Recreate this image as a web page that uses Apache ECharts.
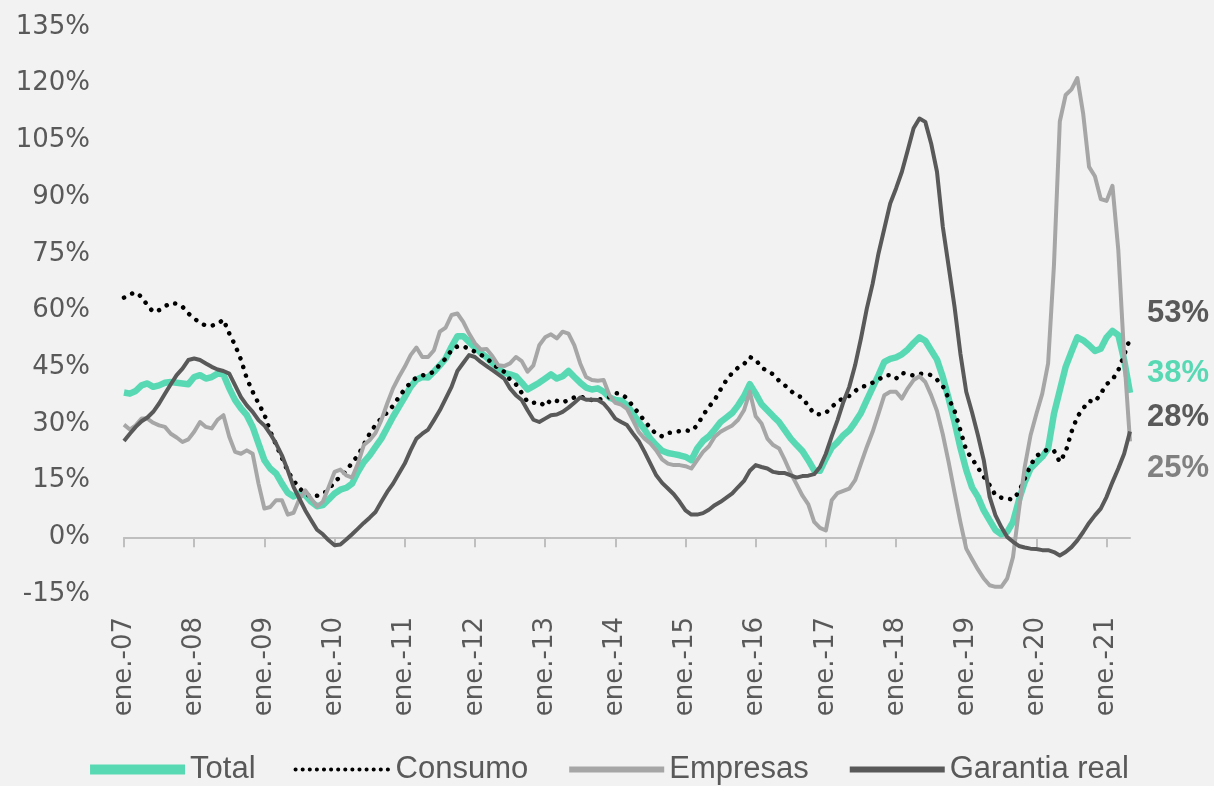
<!DOCTYPE html>
<html>
<head>
<meta charset="utf-8">
<script src="https://cdn.jsdelivr.net/npm/echarts@6/dist/echarts.min.js"></script>
<style>
  html, body { margin: 0; padding: 0; background: #f2f2f2; }
  #chart { width: 1214px; height: 786px; }
</style>
</head>
<body>
<div id="chart"></div>
<script>
// meses y años del eje (ene.-07 ... may.-21)
const meses = ['ene.', 'feb.', 'mar.', 'abr.', 'may.', 'jun.', 'jul.', 'ago.', 'sept.', 'oct.', 'nov.', 'dic.'];
const anios = ['07', '08', '09', '10', '11', '12', '13', '14', '15', '16', '17', '18', '19', '20', '21'];
const nMeses = 173;

// series (% variación)
const total = [
  38.3, 38.0, 38.7, 40.2, 40.7, 39.8, 40.2, 40.9, 41.1, 40.9, 40.7, 40.5,
  42.4, 42.9, 42.0, 42.4, 43.3, 43.1, 39.4, 36.3, 34.1, 32.3, 29.2, 24.8,
  20.4, 18.2, 16.9, 14.2, 11.8, 10.8, 11.6, 11.1, 9.4, 8.2, 8.5, 10.0,
  11.6, 12.6, 13.1, 14.2, 17.3, 19.9, 21.7, 23.9, 26.1, 29.0, 31.9, 34.5,
  37.1, 39.8, 41.7, 42.4, 42.3, 43.8, 45.5, 47.3, 50.4, 53.2, 53.2, 51.7,
  50.2, 48.8, 47.6, 46.1, 44.6, 43.5, 43.1, 42.6, 40.9, 39.1, 40.0, 40.9,
  42.0, 43.1, 42.0, 42.6, 44.0, 42.4, 40.9, 39.6, 39.1, 39.4, 38.5, 37.0,
  36.3, 36.1, 35.0, 32.8, 30.5, 28.5, 26.1, 24.4, 22.9, 22.3, 22.0, 21.7,
  21.3, 20.4, 23.5, 25.5, 26.7, 28.5, 30.5, 31.7, 32.9, 34.9, 37.3, 40.5,
  38.0, 35.2, 33.6, 32.0, 30.5, 28.3, 26.1, 24.4, 22.8, 20.4, 17.7, 17.6,
  20.8, 23.7, 25.2, 27.0, 28.3, 30.5, 32.9, 36.3, 39.6, 42.9, 46.4, 47.2,
  47.6, 48.4, 49.7, 51.4, 52.9, 52.0, 49.5, 47.0, 42.4, 36.7, 30.5, 23.7,
  17.8, 13.2, 10.7, 7.1, 4.5, 1.9, 0.8, 1.4, 4.1, 9.8, 14.6, 18.2,
  19.8, 21.3, 23.5, 32.7, 38.9, 45.1, 49.1, 52.9, 52.1, 50.8, 49.3, 49.9,
  52.9, 54.6, 53.5, 46.9, 38.2
];
const consumo = [
  63.4, 64.3, 64.8, 63.6, 61.4, 59.6, 60.1, 61.1, 62.0, 61.8, 61.0, 59.2,
  57.9, 56.7, 56.0, 56.0, 56.4, 57.6, 53.9, 50.8, 47.0, 42.0, 38.5, 35.4,
  32.5, 28.0, 24.5, 21.0, 17.5, 15.0, 13.0, 11.5, 10.8, 11.0, 11.5, 12.6,
  14.7, 16.0, 17.5, 19.8, 21.6, 24.5, 27.4, 29.7, 31.5, 33.0, 34.8, 37.1,
  39.2, 40.9, 42.3, 42.8, 43.2, 43.8, 45.7, 47.3, 49.5, 50.5, 50.5, 49.9,
  49.1, 48.3, 47.3, 46.1, 44.6, 43.8, 41.7, 40.5, 38.2, 35.8, 35.6, 35.8,
  34.7, 36.4, 36.1, 35.6, 36.4, 37.0, 37.3, 36.7, 36.3, 36.4, 36.7, 37.1,
  38.2, 37.9, 36.8, 34.7, 32.8, 30.8, 28.9, 27.3, 26.7, 27.6, 27.8, 28.1,
  28.3, 28.1, 29.6, 32.3, 34.5, 36.4, 39.1, 41.6, 43.5, 44.9, 45.8, 47.7,
  47.0, 44.9, 44.0, 43.1, 41.4, 40.2, 38.7, 37.6, 36.9, 34.7, 32.7, 32.5,
  32.9, 34.5, 35.8, 36.9, 37.4, 38.7, 39.8, 40.1, 40.9, 41.7, 42.8, 42.9,
  42.0, 43.5, 43.1, 42.8, 43.3, 43.3, 42.9, 41.7, 40.0, 36.7, 33.5, 28.3,
  23.0, 20.8, 18.4, 16.0, 13.8, 11.1, 10.5, 10.2, 10.0, 12.0, 15.5, 19.1,
  21.5, 22.6, 23.2, 22.9, 19.9, 22.6, 27.9, 31.9, 34.1, 36.1, 35.8, 38.0,
  40.5, 41.7, 44.2, 48.2, 52.6
];
const empresas = [
  29.8, 28.5, 29.6, 31.4, 31.4, 30.3, 29.6, 29.2, 27.4, 26.4, 25.2, 25.9,
  27.9, 30.5, 29.2, 28.8, 31.1, 32.3, 26.6, 22.6, 22.1, 23.0, 22.1, 14.2,
  7.6, 8.0, 9.8, 9.8, 6.0, 6.5, 10.2, 12.4, 10.2, 8.2, 9.4, 13.3,
  17.3, 17.9, 16.4, 15.8, 19.5, 24.4, 25.7, 27.6, 31.0, 35.4, 39.4, 42.4,
  45.1, 48.2, 50.2, 47.7, 47.7, 49.5, 54.4, 55.5, 58.8, 59.2, 57.0, 53.9,
  51.3, 49.7, 49.8, 47.9, 45.5, 45.3, 46.0, 47.7, 46.6, 43.8, 45.5, 50.8,
  52.9, 53.7, 52.6, 54.4, 53.9, 50.8, 46.0, 42.4, 41.6, 41.4, 41.6, 37.6,
  35.6, 35.1, 34.0, 31.0, 27.9, 26.1, 24.8, 23.0, 20.6, 19.5, 19.1, 19.1,
  18.8, 18.2, 20.4, 22.6, 24.1, 26.6, 27.9, 28.8, 29.6, 31.1, 33.6, 38.5,
  32.0, 30.1, 26.1, 24.4, 23.5, 20.4, 16.9, 14.0, 11.0, 8.7, 4.1, 2.5,
  1.8, 9.8, 11.7, 12.3, 12.9, 15.1, 19.5, 23.9, 27.9, 32.7, 37.6, 38.5,
  38.5, 36.7, 39.4, 41.6, 42.6, 41.1, 37.6, 33.4, 27.2, 19.8, 11.8, 4.0,
  -3.0, -5.8, -8.5, -10.9, -12.7, -13.1, -13.1, -10.9, -5.2, 7.1, 18.6, 27.0,
  32.7, 38.0, 46.0, 72.0, 110.0, 117.0, 118.5, 121.5, 112.0, 98.0, 95.5, 89.5,
  89.0, 93.0, 76.0, 48.0, 25.4
];
const garantiaReal = [
  25.5, 27.4, 29.2, 30.7, 31.7, 33.2, 35.4, 38.0, 40.5, 42.9, 44.6, 46.9,
  47.3, 46.9, 46.0, 45.1, 44.4, 44.0, 43.3, 40.2, 37.1, 34.9, 33.2, 31.0,
  29.6, 27.4, 24.8, 21.7, 17.7, 13.3, 10.2, 7.1, 4.5, 2.0, 0.8, -0.8,
  -2.1, -1.9, -0.6, 0.8, 2.3, 3.8, 5.2, 6.7, 9.4, 12.0, 14.2, 16.9,
  19.5, 23.0, 26.1, 27.4, 28.5, 31.0, 33.6, 36.7, 39.8, 44.0, 46.1, 48.2,
  47.7, 46.4, 45.3, 44.2, 43.1, 42.0, 39.4, 37.6, 36.3, 33.6, 31.1, 30.5,
  31.4, 32.3, 32.5, 33.2, 34.3, 35.6, 37.0, 36.4, 36.4, 36.3, 35.4, 33.6,
  31.4, 30.5, 29.7, 27.5, 25.5, 22.6, 19.5, 16.4, 14.4, 12.9, 11.4, 9.4,
  7.1, 6.0, 6.0, 6.4, 7.3, 8.5, 9.4, 10.5, 11.6, 13.3, 14.9, 17.6,
  19.1, 18.6, 18.2, 17.3, 17.0, 17.0, 16.4, 15.8, 16.2, 16.3, 16.7, 18.6,
  22.1, 26.7, 31.0, 35.8, 39.8, 45.5, 52.6, 60.5, 67.1, 75.1, 81.7, 88.3,
  92.3, 96.7, 102.4, 108.2, 110.8, 109.9, 104.2, 96.7, 82.1, 71.6, 61.0, 48.6,
  38.5, 33.0, 27.0, 20.4, 10.7, 5.8, 2.7, 0.1, -1.2, -2.3, -2.7, -3.0,
  -3.1, -3.4, -3.4, -3.9, -4.8, -3.9, -2.6, -0.8, 1.4, 3.8, 5.8, 7.6,
  10.7, 14.6, 18.2, 22.1, 28.0
];

const categorias = [];
for (let i = 0; i < nMeses; i++) {
  categorias.push(meses[i % 12] + '-' + anios[Math.floor(i / 12)]);
}

const gris = '#595959';
const chart = echarts.init(document.getElementById('chart'));

// etiqueta final de cada serie
function etiquetaFinal(color, dy) {
  return {
    show: true,
    formatter: p => Math.round(p.value) + '%',
    color: color,
    fontFamily: 'Liberation Sans',
    fontWeight: 'bold',
    fontSize: 31,
    distance: 5,
    offset: [12, dy]
  };
}

const option = {
  backgroundColor: '#f2f2f2',
  animation: false,
  grid: { left: 124, right: 84, top: 27, bottom: 192, containLabel: false, outerBoundsMode: 'none' },
  legend: {
    top: 749,
    left: 'center',
    itemWidth: 95,
    itemHeight: 16,
    itemGap: 38,
    itemStyle: { opacity: 0 },
    textStyle: { fontFamily: 'Liberation Sans', fontSize: 31, color: gris },
    data: [
      { name: 'Total', lineStyle: { width: 10, opacity: 1 } },
      { name: 'Consumo', lineStyle: { width: 4, type: [0.1, 7], cap: 'round', opacity: 1 } },
      { name: 'Empresas', lineStyle: { width: 6, opacity: 1 } },
      { name: 'Garantia real', lineStyle: { width: 6, opacity: 1 } }
    ]
  },
  xAxis: [
    {
      type: 'category',
      data: categorias,
      boundaryGap: false,
      position: 'bottom',
      axisLine: { onZero: true, lineStyle: { color: '#bfbfbf', width: 2 } },
      axisTick: { show: true, interval: 11, length: 10, lineStyle: { color: '#bfbfbf', width: 2 } },
      axisLabel: { show: false },
      splitLine: { show: false }
    },
    {
      type: 'category',
      data: categorias,
      boundaryGap: false,
      position: 'bottom',
      axisLine: { show: false, onZero: false },
      axisTick: { show: false },
      axisLabel: {
        interval: 11,
        rotate: 90,
        margin: 23,
        fontFamily: 'DejaVu Sans',
        fontSize: 26,
        color: gris
      },
      splitLine: { show: false }
    }
  ],
  yAxis: {
    type: 'value',
    min: -15,
    max: 135,
    interval: 15,
    axisLine: { show: false },
    axisTick: { show: false },
    splitLine: { show: false },
    axisLabel: {
      formatter: '{value}%',
      margin: 34,
      fontFamily: 'DejaVu Sans',
      fontSize: 26,
      color: gris
    }
  },
  series: [
    {
      name: 'Total',
      type: 'line',
      data: total,
      symbol: 'none',
      color: '#58d9b4',
      lineStyle: { width: 6.5, join: 'round' },
      endLabel: etiquetaFinal('#58d9b4', -19)
    },
    {
      name: 'Consumo',
      type: 'line',
      data: consumo,
      symbol: 'none',
      color: '#000000',
      lineStyle: { width: 4.5, type: [0.1, 9], cap: 'round' },
      endLabel: etiquetaFinal(gris, -25)
    },
    {
      name: 'Empresas',
      type: 'line',
      data: empresas,
      symbol: 'none',
      color: '#a6a6a6',
      lineStyle: { width: 4, join: 'round' },
      endLabel: etiquetaFinal('#808080', 27)
    },
    {
      name: 'Garantia real',
      type: 'line',
      data: garantiaReal,
      symbol: 'none',
      color: gris,
      lineStyle: { width: 4, join: 'round' },
      endLabel: etiquetaFinal(gris, -14)
    }
  ]
};

chart.setOption(option);
</script>
</body>
</html>
